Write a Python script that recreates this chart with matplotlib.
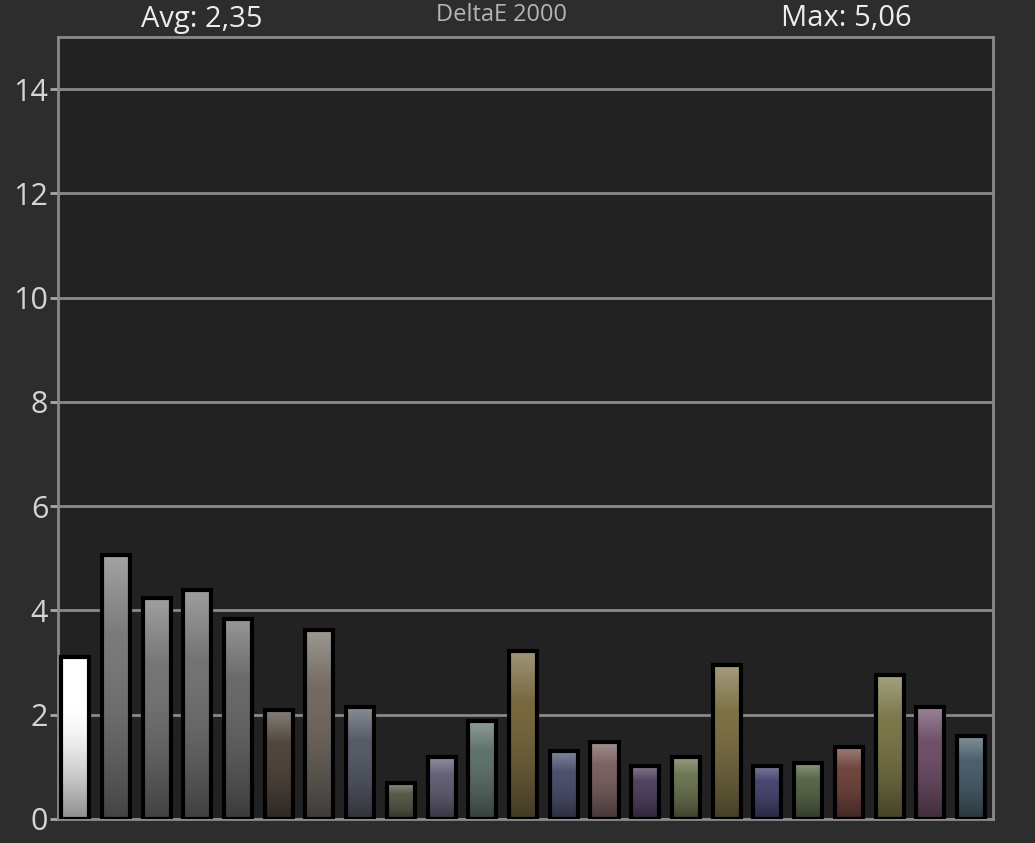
import numpy as np
import matplotlib.pyplot as plt
from matplotlib.colors import to_rgb

# DeltaE 2000 per patch
values = [3.10, 5.06, 4.23, 4.39, 3.83, 2.09, 3.62, 2.15, 0.69, 1.19, 1.88, 3.22,
          1.30, 1.48, 1.02, 1.19, 2.95, 1.02, 1.07, 1.38, 2.76, 2.15, 1.59]
colors = ['#ffffff', '#7a7a7a', '#767676', '#747474', '#6a6a6a', '#51473f', '#736b64',
          '#575c68', '#575b4a', '#646176', '#61746b', '#77683f', '#4e516e', '#7c6263',
          '#514360', '#6d7652', '#7d7146', '#474770', '#586649', '#71463e', '#7c784a',
          '#71516a', '#4b606c']
yticks = [0, 2, 4, 6, 8, 10, 12, 14]
avg_text = 'Avg: 2,35'
max_text = 'Max: 5,06'
title = 'DeltaE 2000'

plt.rcParams['font.family'] = ['Open Sans', 'DejaVu Sans']

fig = plt.figure(figsize=(10.35, 8.43), dpi=100, facecolor='#2d2d2d')
ax = fig.add_axes([58 / 1035, 24 / 843, 935 / 1035, 782 / 843], facecolor='#222222')

w = 0.69
for i, (v, c) in enumerate(zip(values, colors)):
    base = np.array(to_rgb(c))
    top = base + (1 - base) * 0.3
    bot = base * 0.55
    t = np.linspace(0, 1, 100)[:, None]
    # light at the top, base colour in the middle, darker at the bottom
    grad = np.where(t < 0.3, top + (base - top) * (t / 0.3),
                    base + (bot - base) * ((t - 0.3) / 0.7) ** 1.6)
    bar = ax.bar(i, v, width=w, facecolor='none', edgecolor='black',
                 linewidth=3, zorder=3)[0]
    im = ax.imshow(grad[:, None, :], extent=[i - w / 2, i + w / 2, 0, v],
                   aspect='auto', zorder=2.5, interpolation='bilinear')
    im.set_clip_path(bar)

ax.set_xlim(-0.42, len(values) - 1 + 0.54)
ax.set_ylim(0, 15)
ax.set_yticks(yticks)
ax.set_xticks([])
ax.grid(axis='y', color='#8a8a8a', linewidth=2)
ax.set_axisbelow(True)
ax.tick_params(axis='y', colors='#a8a8a8', length=6, width=2, pad=1,
               labelsize=22, labelcolor='#d4d4d4')
for s in ax.spines.values():
    s.set_color('#8a8a8a')
    s.set_linewidth(2)

fig.text(202 / 1035, 1 - 19 / 843, avg_text, ha='center', va='center',
         fontsize=21, color='#ececec')
fig.text(502 / 1035, 1 - 15 / 843, title, ha='center', va='center',
         fontsize=17, color='#b4b4b4')
fig.text(846 / 1035, 1 - 19 / 843, max_text, ha='center', va='center',
         fontsize=21, color='#ececec')

fig.savefig('out.png', dpi=100, facecolor=fig.get_facecolor())
